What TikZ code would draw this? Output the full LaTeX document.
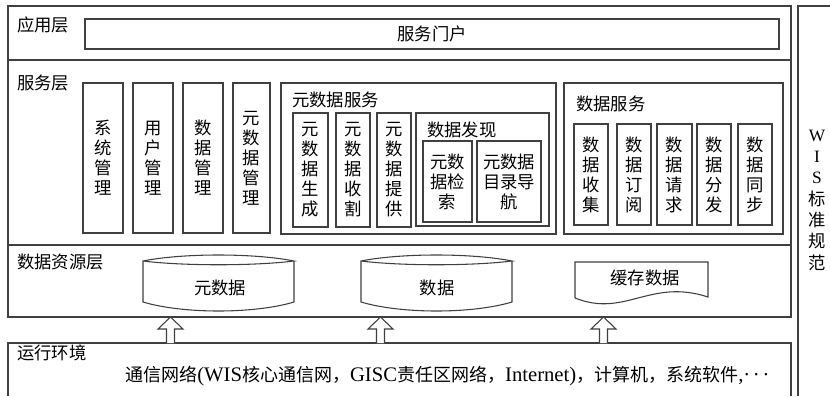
\documentclass[tikz,border=0pt]{standalone}
\usepackage{fontspec}
\setmainfont{Liberation Serif}
\newfontfamily\cjk{Noto Sans CJK SC}
\usepackage{tikz}
\usetikzlibrary{calc}
\definecolor{linec}{gray}{0.25}
\def\drum(#1:#2){\draw[frame] (#1,261) .. controls ({#1+40},253) and ({#2-40},253) .. (#2,261) .. controls ({#2-40},266) and ({#1+40},266) .. (#1,261) -- (#1,302) .. controls ({#1+40},314) and ({#2-40},314) .. (#2,302) -- (#2,261)}
\def\hollowarrow(#1){\draw[frame, fill=white] ($(#1)+(-4,0)$) -- ++(0,-14) -- ++(-8.5,0) -- ++(12.5,-12) -- ++(12.5,12) -- ++(-8.5,0) -- ++(0,14)}
\def\lat#1{{\rmfamily\fontsize{15.5}{15}\selectfont #1}}

\begin{document}
\begin{tikzpicture}[x=0.75pt, y=-0.75pt,
		frame/.style={draw=linec, line width=0.8pt},
		txt/.style={inner sep=0pt, font=\cjk\fontsize{13}{15}\selectfont},
		vtxt/.style={txt, align=center},
		lbl/.style={txt, anchor=west}]
			%%%%% START %%%%%
			\useasboundingbox (0,0) rectangle (830,396);
			
			% layers
			\draw[frame] (8,6) rectangle (791,60);
			\draw[frame] (8,60) rectangle (791,245);
			\draw[frame] (8,245) rectangle (791,317);
			\draw[frame] (8,396) -- (8,343) -- (791,343) -- (791,396);
			\draw[frame] (830,6) -- (798,6) -- (798,396);
			
			\node[lbl] (app) at (17,25) {应用层};
			\node[lbl] (srv) at (17,83) {服务层};
			\node[lbl] (res) at (17,262) {数据资源层};
			\node[lbl] (env) at (17,353) {运行环境};
			\node[vtxt, font=\cjk\fontsize{13}{16}\selectfont] (wis) at (817,200) {{\rmfamily W}\\{\rmfamily I}\\{\rmfamily S}\\标\\准\\规\\范};
			
			\draw[frame] (85,19) rectangle (779,49);
			\node[txt] (portal) at (432,34) {服务门户};
			
			% management
			\draw[frame] (83,83) rectangle (123,233);
			\draw[frame] (133,83) rectangle (173,233);
			\draw[frame] (183,83) rectangle (223,233);
			\draw[frame] (233,83) rectangle (270,233);
			\node[vtxt] (sysm) at (103,158) {系\\统\\管\\理};
			\node[vtxt] (usrm) at (153,158) {用\\户\\管\\理};
			\node[vtxt] (datm) at (203,158) {数\\据\\管\\理};
			\node[vtxt] (metm) at (251.5,158) {元\\数\\据\\管\\理};
			
			% metadata services
			\draw[frame] (281,83) rectangle (556,234);
			\node[lbl] (metsrv) at (292,100) {元数据服务};
			\draw[frame] (293,113) rectangle (328,227);
			\draw[frame] (336,113) rectangle (370,227);
			\draw[frame] (377,113) rectangle (411,227);
			\node[vtxt] (gen) at (310.5,170) {元\\数\\据\\生\\成};
			\node[vtxt] (harv) at (353,170) {元\\数\\据\\收\\割};
			\node[vtxt] (prov) at (394,170) {元\\数\\据\\提\\供};
			
			\draw[frame] (416,113) rectangle (549,226);
			\node[lbl] (disc) at (427,130) {数据发现};
			\draw[frame] (423,141) rectangle (472,222);
			\draw[frame] (477,141) rectangle (541,222);
			\node[vtxt] (search) at (447.5,181.5) {元数\\据检\\索};
			\node[vtxt] (nav) at (509,181.5) {元数据\\目录导\\航};
			
			% data services
			\draw[frame] (564,83) rectangle (783,234);
			\node[lbl] (datsrv) at (576,104) {数据服务};
			\draw[frame] (574,124) rectangle (608,225);
			\draw[frame] (617,124) rectangle (651,225);
			\draw[frame] (657,124) rectangle (692,225);
			\draw[frame] (697,124) rectangle (731,225);
			\draw[frame] (738,124) rectangle (772,225);
			\node[vtxt] (coll) at (591,174.5) {数\\据\\收\\集};
			\node[vtxt] (subs) at (634,174.5) {数\\据\\订\\阅};
			\node[vtxt] (req) at (674.5,174.5) {数\\据\\请\\求};
			\node[vtxt] (dist) at (714,174.5) {数\\据\\分\\发};
			\node[vtxt] (sync) at (755,174.5) {数\\据\\同\\步};
			
			% data resources
			\drum(143:294);
			\drum(361:512);
			\node[txt] (meta) at (220,288) {元数据};
			\node[txt] (data) at (437,288) {数据};
			\draw[frame] (575,298) -- (575,262) -- (708,262) -- (708,297) .. controls (650,278) and (625,318) .. (575,298);
			\node[txt] (cache) at (645,278) {缓存数据};
			
			% runtime
			\node[lbl, font=\cjk\fontsize{13.5}{15}\selectfont] (net) at (125,376) {通信网络\lat{(WIS}核心通信网，\lat{GISC}责任区网络，\lat{Internet)}，计算机，系统软件\lat{,·\kern2pt·\kern2pt·}};
			
			\coordinate (up1) at (170.5,343);
			\coordinate (up2) at (380.5,343);
			\coordinate (up3) at (603.5,343);
			\hollowarrow(up1);
			\hollowarrow(up2);
			\hollowarrow(up3);
			%%%%% END %%%%%
\end{tikzpicture}
\end{document}
